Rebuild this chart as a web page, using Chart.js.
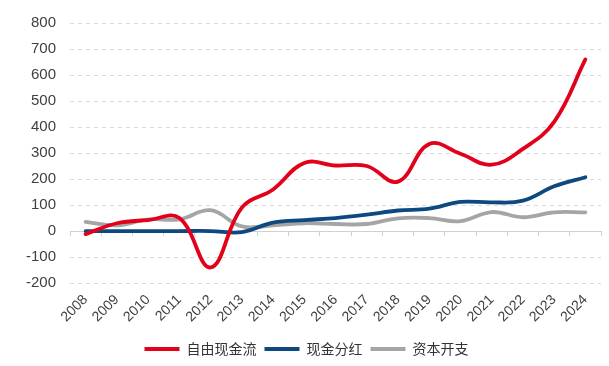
<!DOCTYPE html>
<html>
<head>
<meta charset="utf-8">
<script src="https://cdn.jsdelivr.net/npm/chart.js@4/dist/chart.umd.min.js"></script>
<style>
  html, body { margin: 0; padding: 0; background: #fff; }
  #wrap { width: 609px; height: 366px; }
</style>
</head>
<body>
<div id="wrap"><canvas id="chart"></canvas></div>
<script>
// data
const years = ["2008", "2009", "2010", "2011", "2012", "2013", "2014", "2015", "2016",
               "2017", "2018", "2019", "2020", "2021", "2022", "2023", "2024"];
const freeCashFlow = [-12, 30, 42, 50, -140, 90, 160, 262, 252, 250, 190, 335, 297, 255, 316, 420, 660];
const cashDividend = [0, 0, 0, 0, 0, -4, 32, 42, 50, 63, 79, 86, 112, 110, 117, 172, 207];
const capex        = [35, 22, 45, 45, 80, 18, 22, 30, 27, 27, 49, 50, 38, 73, 53, 72, 72];
const seriesNames  = ["自由现金流", "现金分红", "资本开支"];

const yTicks = { min: -200, max: 800, step: 100 };

const colors = ["rgb(226, 0, 26)", "rgb(14, 72, 128)", "rgb(165, 165, 165)"];

const makeSet = (label, data, color) => ({
    label: label,
    data: data,
    borderColor: color,
    backgroundColor: color,
    borderWidth: 3.8,
    borderCapStyle: "round",
    pointRadius: 0,
    tension: 0.4,
    xAxisID: "x",
});

const tickFont = { family: "'Liberation Sans', Arial, sans-serif", size: 15 };

let ctx = document.getElementById("chart").getContext("2d");

let chart = new Chart(ctx, {
    type: "line",
    data: {
        labels: years,
        datasets: [
            makeSet(seriesNames[0], freeCashFlow, colors[0]),
            makeSet(seriesNames[1], cashDividend, colors[1]),
            makeSet(seriesNames[2], capex, colors[2]),
        ]
    },
    options: {
        responsive: true,
        maintainAspectRatio: false,
        animation: false,
        layout: { padding: { left: 12, right: 8, top: 12, bottom: 0 } },
        plugins: {
            legend: {
                position: "bottom",
                labels: {
                    usePointStyle: true,
                    pointStyle: "line",
                    pointStyleWidth: 35,
                    boxHeight: 14,
                    padding: 8,
                    color: "#333",
                    font: { family: "'Noto Sans CJK SC', sans-serif", size: 14 },
                }
            },
            tooltip: { enabled: false }
        },
        scales: {
            x: {
                type: "category",
                offset: true,
                grid: { display: false, drawTicks: false },
                border: { display: false },
                ticks: {
                    autoSkip: false,
                    minRotation: 45,
                    maxRotation: 45,
                    padding: 11,
                    color: "#404040",
                    font: { family: tickFont.family, size: 14, lineHeight: 0.7 },
                }
            },
            xZero: {
                type: "category",
                labels: years,
                position: { y: 0 },
                offset: true,
                grid: {
                    offset: true,
                    drawOnChartArea: false,
                    drawTicks: true,
                    tickLength: 5,
                    color: "#d0d0d0",
                    lineWidth: 1,
                },
                border: { display: false },
                ticks: { display: false }
            },
            y: {
                min: yTicks.min,
                max: yTicks.max,
                ticks: {
                    stepSize: yTicks.step,
                    padding: 14,
                    color: "#404040",
                    font: tickFont,
                },
                grid: {
                    drawTicks: false,
                    color: (c) => (c.tick && c.tick.value === 0) ? "#d0d0d0" : "#dadada",
                    lineWidth: 1,
                },
                border: {
                    display: false,
                    dash: (c) => (c.tick && c.tick.value === 0) ? [] : [4, 4],
                }
            }
        }
    }
});
</script>
</body>
</html>
